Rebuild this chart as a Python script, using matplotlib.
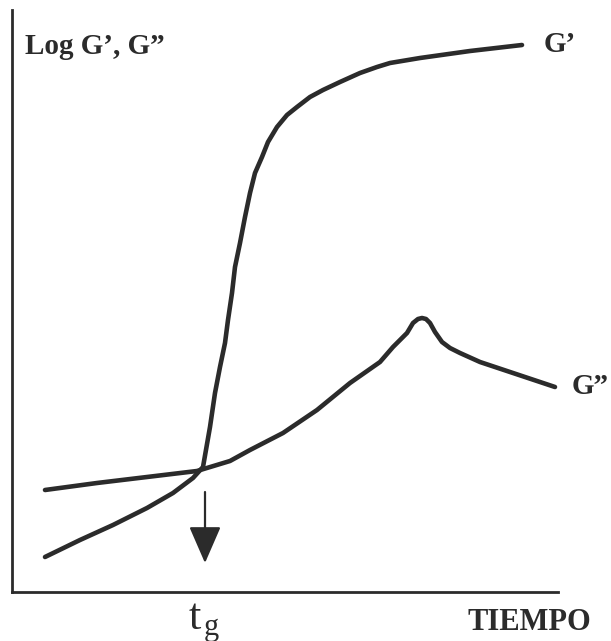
import matplotlib
matplotlib.use("Agg")
import matplotlib.pyplot as plt

# Curves traced as (time, log modulus) in arbitrary units
g1_time = [33, 68, 101, 135, 161, 181, 191, 198, 203, 208, 213, 216, 220,
           223, 228, 233, 238, 243, 250, 256, 265, 275, 285, 298, 311, 328,
           348, 365, 378, 408, 458, 510]
g1_logmod = [35, 52, 67, 84, 99, 114, 125, 165, 199, 225, 249, 272, 299,
             325, 349, 375, 399, 419, 435, 450, 465, 477, 485, 495, 502, 510,
             519, 525, 529, 534, 541, 547]

g2_time = [33, 85, 135, 185, 218, 238, 271, 305, 338, 368, 381, 395, 401,
           406, 410, 414, 418, 423, 430, 438, 448, 468, 501, 543]
g2_logmod = [102, 109, 115, 121, 131, 142, 159, 182, 209, 230, 245, 259, 269,
             273, 274, 273, 269, 260, 250, 244, 239, 230, 219, 205]

t_gel = 191          # crossover G' = G''
arrow_top, arrow_tip = 100, 29

ink = "#2b2b2b"
serif = ["Liberation Serif", "DejaVu Serif"]

fig = plt.figure(figsize=(6.11, 6.41), dpi=100)
fig.patch.set_facecolor("white")
ax = fig.add_axes([12 / 611, 49 / 641, 546 / 611, 582 / 641])
ax.set_xlim(0, 546)
ax.set_ylim(0, 582)
for side in ("top", "right"):
    ax.spines[side].set_visible(False)
for side in ("left", "bottom"):
    ax.spines[side].set_linewidth(2.0)
    ax.spines[side].set_color(ink)
ax.set_xticks([])
ax.set_yticks([])

ax.plot(g1_time, g1_logmod, color=ink, lw=3.3, solid_capstyle="round",
        solid_joinstyle="round", clip_on=False)
ax.plot(g2_time, g2_logmod, color=ink, lw=3.3, solid_capstyle="round",
        solid_joinstyle="round", clip_on=False)

# gel point marker
ax.annotate("", xy=(t_gel + 2, arrow_tip), xytext=(t_gel + 2, arrow_top),
            arrowprops=dict(arrowstyle="-|>,head_length=2.3,head_width=1.0",
                            color=ink, lw=1.6, mutation_scale=10,
                            shrinkA=0, shrinkB=0))

ax.text(13, 546, "Log G’, G”", family=serif, fontweight="bold", fontsize=21,
        va="center", ha="left", color=ink)
ax.text(532, 547, "G’", family=serif, fontweight="bold", fontsize=21,
        va="center", ha="left", color=ink, clip_on=False)
ax.text(560, 205, "G”", family=serif, fontweight="bold", fontsize=21,
        va="center", ha="left", color=ink, clip_on=False)
ax.text(579, -30, "TIEMPO", family=serif, fontweight="bold", fontsize=22,
        va="center", ha="right", color=ink, clip_on=False)
ax.text(t_gel - 14, -26, "t", family=serif, fontsize=32,
        va="center", ha="left", color=ink, clip_on=False)
ax.text(t_gel + 1, -36, "g", family=serif, fontsize=22,
        va="center", ha="left", color=ink, clip_on=False)

fig.savefig("out.png", dpi=100, facecolor="white")
